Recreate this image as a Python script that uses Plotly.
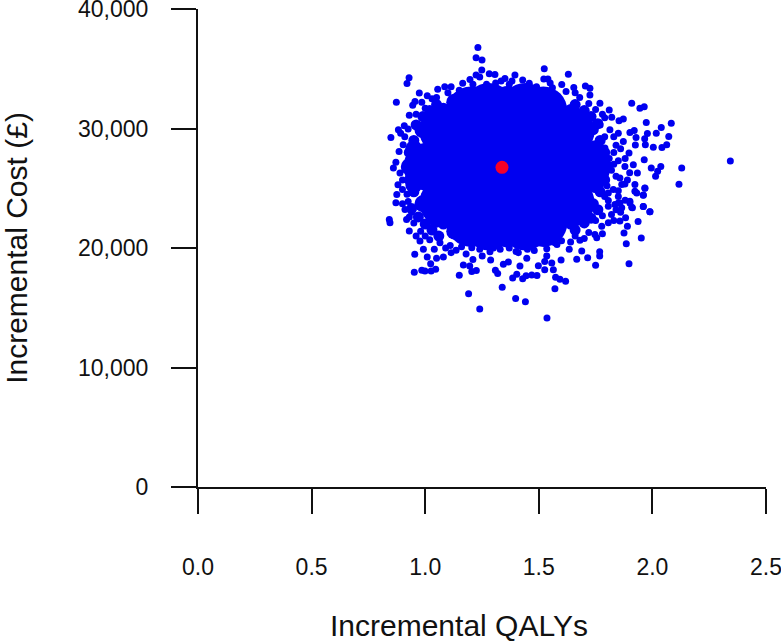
import plotly.graph_objects as go

x_ticks = [0.0, 0.5, 1.0, 1.5, 2.0, 2.5]
x_tick_labels = ["0.0", "0.5", "1.0", "1.5", "2.0", "2.5"]
y_ticks = [0, 10000, 20000, 30000, 40000]
y_tick_labels = ["0", "10,000", "20,000", "30,000", "40,000"]
x_title = "Incremental QALYs"
y_title = "Incremental Cost (£)"

mean_qaly = [1.338]
mean_cost = [26750]

# densest part of the cloud, where the simulations merge into a solid mass
core_qaly = [1.01, 1.18, 1.36, 1.54, 1.71,
             1.08, 1.23, 1.36, 1.49, 1.64,
             1.08, 1.23, 1.36, 1.49, 1.64,
             1.20, 1.36, 1.52,
             1.20, 1.36, 1.52,
             1.27, 1.45, 1.27, 1.45, 1.10, 1.62, 1.10, 1.62,
             1.28, 1.44, 1.28, 1.44]
core_cost = [26800, 26800, 26800, 26800, 26800,
             29800, 29800, 29800, 29800, 29800,
             23800, 23800, 23800, 23800, 23800,
             31500, 31500, 31500,
             22100, 22100, 22100,
             28300, 28300, 25300, 25300, 28300, 28300, 25300, 25300,
             31800, 31800, 21800, 21800]

rim_qaly = [1.77, 1.75, 1.71, 1.65, 1.57, 1.46, 1.35, 1.24, 1.13, 1.05, 0.99, 0.95,
            0.93, 0.95, 0.99, 1.05, 1.13, 1.24, 1.35, 1.46, 1.57, 1.65, 1.71, 1.75]
rim_cost = [26800, 28300, 29900, 31200, 32200, 32700, 32800, 32700, 32200, 31200, 29900, 28300,
            26800, 25300, 23700, 22400, 21400, 20900, 20800, 20900, 21400, 22400, 23700, 25300]

edge_qaly = [1.80, 1.79, 1.77, 1.74, 1.70, 1.64, 1.58, 1.51, 1.44, 1.36, 1.28, 1.21,
             1.14, 1.08, 1.02, 0.98, 0.95, 0.93, 0.92, 0.93, 0.95, 0.98, 1.02, 1.08,
             1.14, 1.21, 1.28, 1.36, 1.44, 1.51, 1.58, 1.64, 1.70, 1.74, 1.77, 1.79,
             0.96, 0.99, 1.02, 1.05, 0.94, 0.97, 1.00, 1.03, 1.06,
             1.70, 1.73, 1.76, 1.66, 1.70, 1.73, 1.76, 1.66]
edge_cost = [26900, 28000, 29000, 29900, 30900, 31600, 32200, 32700, 33000, 33100, 33000, 32800,
             32300, 31700, 30800, 29900, 29000, 28000, 26800, 25700, 24700, 23700, 22800, 22000,
             21300, 20800, 20600, 20500, 20600, 20900, 21300, 22000, 22800, 23700, 24700, 25700,
             30300, 31000, 31500, 32000, 23300, 22600, 22000, 21500, 21000,
             31500, 31000, 30400, 32000, 22100, 22500, 23200, 21500]

top_sims = [
    (1.232, 36775), (1.224, 35917), (1.25, 35725), (1.249, 34890), (0.929, 34250), (0.92, 33775),
    (0.873, 32190), (0.974, 32970), (1.524, 35000), (1.522, 34140), (1.54, 34150), (1.55, 33800),
    (0.849, 29250), (0.882, 29890), (0.908, 30225), (0.955, 32250), (0.945, 31950), (1.009, 32750),
    (1.055, 33280), (1.114, 33500), (1.086, 33500), (1.165, 33780), (1.197, 34110), (1.224, 34470),
    (1.282, 34580), (1.307, 34520), (1.351, 34190), (1.334, 33970), (1.395, 34470), (1.382, 33970),
    (1.429, 34050), (1.458, 33780), (0.86, 26700), (0.871, 27170), (0.889, 26270), (0.885, 28080),
    (0.903, 28640), (0.892, 29600), (0.925, 29950), (0.93, 31100), (0.985, 32200), (1.03, 32500),
    (1.24, 34300), (1.21, 33700), (1.27, 33700), (1.31, 33800), (1.37, 33700), (1.49, 33500),
    (1.05, 32600), (1.10, 33000), (1.15, 33200), (0.96, 31200), (1.00, 31700), (0.91, 29300),
]
right_sims = [
    (1.63, 34530), (1.601, 33690), (1.654, 33440), (1.705, 33560), (1.725, 33360), (1.725, 32800),
    (1.909, 32110), (1.945, 31690), (1.964, 31830), (1.81, 31550), (1.821, 30940), (1.853, 30640),
    (1.872, 30800), (1.973, 30500), (2.083, 30440), (2.039, 30080), (1.901, 29670), (1.92, 29830),
    (1.978, 29580), (2.017, 29610), (2.072, 29330), (1.928, 29250), (1.966, 29140), (1.969, 28640),
    (1.925, 28610), (2.004, 28440), (2.042, 28420), (2.063, 28640), (2.343, 27280), (2.129, 26690),
    (2.117, 25330), (2.037, 26810), (1.995, 26690), (2.023, 26420), (2.014, 26000), (1.964, 27390),
    (1.967, 25030), (1.96, 24440), (1.96, 23470), (1.989, 23030), (1.897, 27940), (1.872, 28920),
    (1.85, 29610), (1.934, 26270), (1.916, 26970), (1.879, 26830), (1.923, 25310), (1.931, 24610),
    (1.901, 23770), (1.909, 23420), (1.85, 23770), (1.865, 23360), (1.806, 23970), (1.828, 24890),
    (1.865, 25310), (1.857, 25860), (1.791, 28360), (1.813, 29890), (1.769, 32110), (1.75, 31600),
    (1.79, 30900), (1.83, 28000), (1.85, 27300), (1.82, 26500), (1.84, 26000), (1.80, 25200),
    (1.79, 24300), (1.77, 30300), (1.79, 29300), (1.81, 27500), (1.84, 28600), (1.86, 28300),
    (1.88, 27500), (1.90, 26300), (1.89, 25700), (1.83, 27000), (1.85, 24300), (1.83, 29300),
    (1.78, 31200), (1.72, 32100), (1.68, 32600), (1.62, 33100), (1.56, 33400), (1.66, 33000),
]
lower_left_sims = [
    (0.842, 22390), (0.845, 22110), (0.875, 24470), (0.871, 23780), (0.911, 23220), (0.918, 22390),
    (0.93, 21420), (0.954, 19470), (0.952, 17970), (0.985, 18140), (0.999, 18080), (1.026, 18080),
    (1.046, 18220), (1.009, 19250), (1.024, 18690), (1.05, 19140), (1.08, 19250), (0.977, 20580),
    (0.992, 19890), (1.065, 20440), (1.114, 19610), (1.136, 19810), (1.15, 17720), (1.168, 18580),
    (1.196, 18500), (1.21, 19030), (1.205, 18030), (1.225, 18110), (1.191, 16170), (1.24, 14890),
    (1.339, 16720), (1.398, 15780), (1.441, 15500), (1.536, 14140), (1.309, 18140), (1.319, 17860),
    (1.385, 17500), (1.403, 17810), (1.429, 17420), (1.444, 17670), (1.469, 17750), (1.492, 17690),
    (1.417, 18500), (1.498, 18520), (1.526, 18860), (1.557, 18750), (1.526, 18190), (1.564, 18190),
    (1.574, 17560), (1.571, 16580), (1.288, 19000), (1.251, 19330), (1.344, 18640), (1.366, 18830),
    (1.447, 19140), (1.535, 19330), (1.205, 20030), (1.285, 19690), (1.41, 19610), (0.88, 25300),
    (0.90, 24900), (0.90, 25700), (0.925, 23900), (0.94, 23000), (0.95, 22100), (0.98, 21400),
    (1.02, 20700), (1.09, 20000), (1.16, 20100), (1.33, 19900), (1.37, 20000), (1.45, 19900),
    (0.96, 21000), (1.00, 21000), (1.04, 19900), (1.11, 20200), (1.18, 19500), (1.24, 19900),
    (1.30, 20000), (1.40, 19700), (1.48, 19800), (0.92, 24500), (0.90, 23700), (0.93, 22600),
]
lower_right_sims = [
    (1.967, 25000), (1.96, 24420), (1.96, 23470), (1.989, 23030), (1.937, 22220), (1.89, 21810),
    (1.875, 21250), (1.951, 20830), (1.885, 20360), (1.897, 18690), (1.75, 18560), (1.768, 19330),
    (1.768, 19690), (1.715, 19190), (1.667, 19060), (1.689, 19750), (1.598, 19000), (1.618, 17220),
    (1.593, 17390), (1.755, 20860), (1.681, 20640), (1.634, 19890), (1.571, 20440), (1.535, 19940),
    (1.857, 22250), (1.806, 22110), (1.777, 21830), (1.747, 21140), (1.901, 23920), (1.912, 23360),
    (1.857, 23770), (1.835, 23640), (1.806, 23500), (1.882, 22530), (1.923, 24750), (1.85, 24800),
    (1.806, 24610), (1.879, 25360), (1.72, 21300), (1.66, 21000), (1.60, 20600), (1.70, 20800),
    (1.78, 22700), (1.82, 22800), (1.75, 22300), (1.58, 20300), (1.64, 20500), (1.78, 21200),
    (1.83, 22300), (1.86, 23000), (1.88, 24000), (1.84, 23200),
]
all_sims = top_sims + right_sims + lower_left_sims + lower_right_sims
sim_qaly = [p[0] for p in all_sims]
sim_cost = [p[1] for p in all_sims]

BLUE = "#0000f0"
fig = go.Figure()
fig.add_trace(go.Scatter(x=core_qaly, y=core_cost, mode="markers", hoverinfo="skip",
                         marker=dict(size=48, color=BLUE, line=dict(width=0))))
fig.add_trace(go.Scatter(x=rim_qaly, y=rim_cost, mode="markers", hoverinfo="skip",
                         marker=dict(size=17, color=BLUE, line=dict(width=0))))
fig.add_trace(go.Scatter(x=edge_qaly, y=edge_cost, mode="markers", hoverinfo="skip",
                         marker=dict(size=11, color=BLUE, line=dict(width=0))))
fig.add_trace(go.Scatter(x=sim_qaly, y=sim_cost, mode="markers",
                         marker=dict(size=7, color=BLUE, line=dict(width=0))))
fig.add_trace(go.Scatter(x=mean_qaly, y=mean_cost, mode="markers",
                         marker=dict(size=13, color="#f5002a", line=dict(width=0))))

axis_font = dict(family="Liberation Sans", size=23, color="#111111")
title_font = dict(family="Liberation Sans", size=30, color="#111111")
fig.update_layout(
    width=781, height=643, showlegend=False,
    paper_bgcolor="white", plot_bgcolor="white",
    margin=dict(l=198, r=15, t=9, b=156, autoexpand=False),
    xaxis=dict(range=[0, 2.5], tickmode="array", tickvals=x_ticks, ticktext=x_tick_labels,
               ticks="outside", ticklen=25, tickwidth=2, tickcolor="#111111",
               showline=True, linewidth=2, linecolor="#111111", showgrid=False, zeroline=False,
               tickfont=axis_font, ticklabelstandoff=33, ticklabeloverflow="allow"),
    yaxis=dict(range=[0, 40000], tickmode="array", tickvals=y_ticks, ticktext=y_tick_labels,
               ticks="outside", ticklen=25, tickwidth=2, tickcolor="#111111",
               showline=True, linewidth=2, linecolor="#111111", showgrid=False, zeroline=False,
               tickfont=axis_font, ticklabelstandoff=18, ticklabeloverflow="allow",
               title=dict(text=y_title, font=title_font, standoff=44)),
    annotations=[dict(text=x_title, font=title_font, xref="paper", yref="paper",
                      x=0.4593, y=-0.290, xanchor="center", yanchor="middle", showarrow=False)],
)
fig.write_html("out.html", post_script="document.body.style.margin='0';",
               config={"displayModeBar": False})
